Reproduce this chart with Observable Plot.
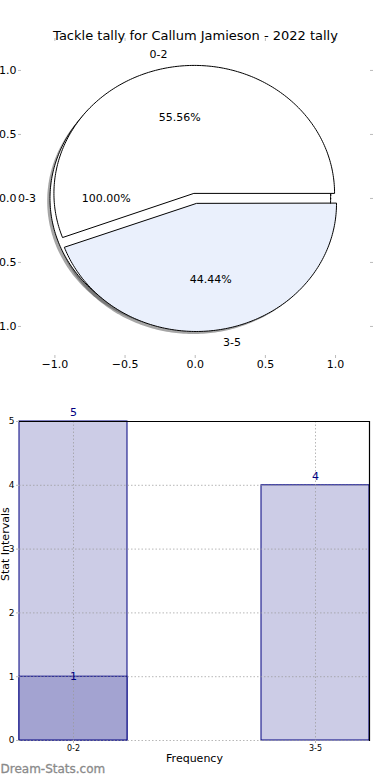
<!DOCTYPE html>
<html><head><meta charset="utf-8">
<script src="https://cdn.jsdelivr.net/npm/d3@7"></script>
<script src="https://cdn.jsdelivr.net/npm/@observablehq/plot@0.6"></script>
<style>
body{margin:0;background:#fff;font-family:"DejaVu Sans",sans-serif;}
#wrap{width:390px;height:780px;position:relative;overflow:hidden;background:#fff;}
svg{display:block;overflow:visible}
</style></head><body><div id="wrap"></div>
<script>
// ---- data ----
const title = "Tackle tally for Callum Jamieson - 2022 tally";
const pieCategories = ["0-2", "3-5"];
const pieCounts = [5, 4];
const outerCategories = ["0-3"];
const outerCounts = [1];
const pieColors = ["#ffffff", "#eaf0fc"];
const outerColors = ["#ffffff"];
const pieTicks = [-1, -0.5, 0, 0.5, 1];

const barCategories = ["0-2", "3-5"];
const barCounts = [5, 4];
const highlightCategories = ["0-2"];
const highlightCounts = [1];
const barTicks = [0, 1, 2, 3, 4, 5];
const xLabel = "Frequency";
const yLabel = "Stat Intervals";
const watermark = "Dream-Stats.com";

// ---- pie geometry built from the counts ----
function buildWedges(cats, counts, colors, explode, prefix) {
  const total = d3.sum(counts);
  let a = 0;
  return cats.map((cat, i) => {
    const span = counts[i] / total * 360;
    const a0 = a, a1 = a + span;
    a = a1;
    const mid = (a0 + a1) / 2 * Math.PI / 180;
    const cx = explode * Math.cos(mid), cy = explode * Math.sin(mid);
    const pts = [];
    const full = span >= 359.999;
    if (!full) pts.push({x: cx, y: cy});
    const n = Math.max(2, Math.ceil(span));
    for (let k = 0; k <= n; k++) {
      const t = (a0 + (a1 - a0) * k / n) * Math.PI / 180;
      pts.push({x: cx + Math.cos(t), y: cy + Math.sin(t)});
    }
    return {
      id: prefix + i, cat, color: colors[i], pts,
      pct: (counts[i] / total * 100).toFixed(2) + "%",
      lx: cx + 1.1 * Math.cos(mid), ly: cy + 1.1 * Math.sin(mid),
      px: cx + 0.6 * Math.cos(mid), py: cy + 0.6 * Math.sin(mid)
    };
  });
}
const outerW = buildWedges(outerCategories, outerCounts, outerColors, 0.035, "o");
const innerW = buildWedges(pieCategories, pieCounts, pieColors, 0.04, "i");
const allW = [...outerW, ...innerW];
const shadow = w => w.pts.map(p => ({x: p.x - 0.02, y: p.y - 0.02}));

const font = "DejaVu Sans";
const pie = Plot.plot({
  width: 390, height: 385,
  marginTop: 40, marginBottom: 30, marginLeft: 21, marginRight: 21,
  x: {domain: [-1.238, 1.242]},
  y: {domain: [-1.227, 1.234]},
  style: {fontFamily: font, fontSize: "11px", background: "white", color: "black"},
  marks: [
    ...allW.map(w => Plot.line(shadow(w), {x: "x", y: "y", curve: "linear-closed", fill: "#4d4d4d", fillOpacity: 0.5, stroke: "none"})),
    ...allW.map(w => Plot.line(w.pts, {x: "x", y: "y", curve: "linear-closed", fill: w.color, stroke: "black", strokeWidth: 1})),
    Plot.text(allW.filter(w => w.lx < 0), {x: "lx", y: "ly", text: "cat", textAnchor: "end", fontSize: 11, fill: "black"}),
    Plot.text(allW.filter(w => w.lx >= 0), {x: "lx", y: "ly", text: "cat", textAnchor: "start", fontSize: 11, fill: "black"}),
    Plot.text(allW, {x: "px", y: "py", text: "pct", fontSize: 11, fill: "black"}),
    Plot.axisX(pieTicks, {anchor: "bottom", tickSize: 3, tickPadding: 2, stroke: "#bbb", fill: "black", tickFormat: d3.format(".1f"), label: null, fontSize: 11}),
    Plot.axisX(pieTicks, {anchor: "top", tickSize: 3, stroke: "#bbb", tickFormat: () => "", label: null}),
    Plot.axisY(pieTicks, {anchor: "left", tickSize: 3, tickPadding: 2, stroke: "#bbb", fill: "black", tickFormat: d3.format(".1f"), label: null, fontSize: 11}),
    Plot.axisY(pieTicks, {anchor: "right", tickSize: 3, stroke: "#bbb", tickFormat: () => "", label: null}),
    Plot.text([title], {frameAnchor: "top", dy: -10, fontSize: 13, fill: "black"})
  ]
});

const barData = barCategories.map((c, i) => ({cat: c, n: barCounts[i]}));
const hiData = highlightCategories.map((c, i) => ({cat: c, n: highlightCounts[i]}));
const navy = "#000080";
const bars = Plot.plot({
  width: 390, height: 395,
  marginTop: 36, marginBottom: 40, marginLeft: 19, marginRight: 21,
  x: {type: "band", domain: barCategories, paddingInner: 0.554, paddingOuter: 0, align: 0.5},
  y: {domain: [0, 5]},
  style: {fontFamily: font, fontSize: "9px", background: "white", color: "black"},
  marks: [
    Plot.barY(barData, {x: "cat", y: "n", fill: "#cccce6", stroke: navy, strokeWidth: 1}),
    Plot.barY(hiData, {x: "cat", y: "n", fill: "#a3a3d1", stroke: navy, strokeWidth: 1}),
    Plot.gridY(barTicks, {stroke: "#999", strokeOpacity: 0.7, strokeDasharray: "1.5,2"}),
    Plot.gridX(barCategories, {stroke: "#999", strokeOpacity: 0.7, strokeDasharray: "1.5,2"}),
    Plot.ruleY([5], {stroke: "black", strokeWidth: 1.2}),
    Plot.frame({anchor: "right", stroke: "black", strokeWidth: 1.2}),
    Plot.axisY(barTicks, {tickSize: 3, tickPadding: 2, stroke: "#bbb", fill: "black", fontSize: 9, label: null, tickFormat: d3.format("d")}),
    Plot.axisX(barCategories, {tickSize: 3, tickPadding: 2, stroke: "#bbb", fill: "black", fontSize: 8, label: null}),
    Plot.text(barData, {x: "cat", y: "n", text: d => String(d.n), dy: -9, fill: navy, fontSize: 11}),
    Plot.text(hiData, {x: "cat", y: "n", text: d => String(d.n), dy: 0, fill: navy, fontSize: 11}),
    Plot.text([xLabel], {frameAnchor: "bottom", dy: 21, fontSize: 11, fill: "black"}),
    Plot.text([yLabel], {frameAnchor: "left", dx: -14, rotate: -90, fontSize: 11, fill: "black"}),
    Plot.text([watermark], {frameAnchor: "bottom-left", dx: -19, dy: 32, textAnchor: "start", fontSize: 12, fill: "#8a8a8a", stroke: "#8a8a8a", strokeWidth: 0.3})
  ]
});

const wrap = document.getElementById("wrap");
wrap.appendChild(pie);
wrap.appendChild(bars);
</script></body></html>
